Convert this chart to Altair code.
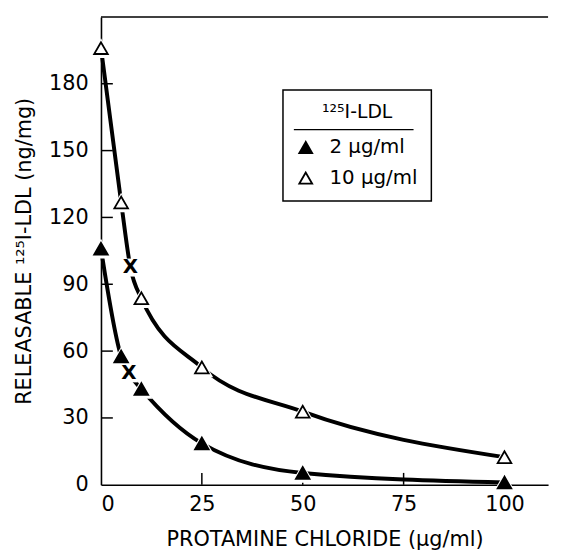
import altair as alt
import pandas as pd

# ---- data ----
series_names = ["2 µg/ml", "10 µg/ml"]
conc = [0, 5, 10, 25, 50, 100]
low_vals = [106, 57.6, 43, 18.6, 5.3, 1.0]
high_vals = [196, 126.7, 83.7, 52.7, 32.8, 12.4]

# "X" marked points lying on the curves
x_mark_conc = [6.9, 7.3]
x_mark_vals = [50.0, 97.5]
x_mark_series = ["2 µg/ml", "10 µg/ml"]

x_tick_vals = [0, 25, 50, 75, 100]
y_tick_vals = [0, 30, 60, 90, 120, 150, 180]
inner_x_ticks = [25, 50, 75]
inner_y_ticks = [30, 60, 90, 120, 150, 180]

W, H = 452, 473
XMAX, YMAX = 110.8, 210
FONT = "DejaVu Sans"

# ---- tables ----
pts = pd.DataFrame(
    [{"conc": c, "val": v, "series": series_names[0]} for c, v in zip(conc, low_vals)]
    + [{"conc": c, "val": v, "series": series_names[1]} for c, v in zip(conc, high_vals)]
)
xm = pd.DataFrame({"conc": x_mark_conc, "val": x_mark_vals, "series": x_mark_series})
line_df = pd.concat([pts, xm]).sort_values(["series", "conc"])

xscale = alt.Scale(domain=[0, XMAX], nice=False, zero=False)
yscale = alt.Scale(domain=[0, YMAX], nice=False)

xenc = alt.X(
    "conc:Q", scale=xscale,
    axis=alt.Axis(values=x_tick_vals, ticks=False, grid=False, domainColor="black",
                  domainWidth=1.6, labelFontSize=21, labelFont=FONT, labelColor="black",
                  labelPadding=9, title="PROTAMINE CHLORIDE (µg/ml)", titleFont=FONT,
                  titleFontSize=21, titleFontWeight="normal", titleColor="black",
                  titlePadding=14),
)
yenc = alt.Y(
    "val:Q", scale=yscale,
    axis=alt.Axis(values=y_tick_vals, ticks=False, grid=False, domainColor="black",
                  domainWidth=1.6, labelFontSize=21, labelFont=FONT, labelColor="black",
                  labelPadding=13, title="RELEASABLE ¹²⁵I-LDL (ng/mg)", titleFont=FONT,
                  titleFontSize=21, titleFontWeight="normal", titleColor="black",
                  titlePadding=14),
)

lines = alt.Chart(line_df).mark_line(
    color="black", strokeWidth=4, interpolate="monotone"
).encode(x=xenc, y=yenc, detail="series:N")

halo = alt.Chart(pts).mark_point(
    shape="triangle-up", filled=True, color="white", size=520, opacity=1
).encode(x=alt.X("conc:Q", scale=xscale), y=alt.Y("val:Q", scale=yscale))

LEG = alt.Legend(title="¹²⁵I-LDL")
markers = alt.Chart(pts).mark_point(
    size=190, strokeWidth=1.8, opacity=1, filled=True
).encode(
    x=alt.X("conc:Q", scale=xscale),
    y=alt.Y("val:Q", scale=yscale),
    shape=alt.Shape("series:N", scale=alt.Scale(domain=series_names,
                                                range=["triangle-up", "triangle-up"]),
                    legend=LEG),
    fill=alt.Fill("series:N", scale=alt.Scale(domain=series_names, range=["black", "white"]),
                  legend=LEG),
    stroke=alt.Stroke("series:N", scale=alt.Scale(domain=series_names, range=["black", "black"]),
                      legend=LEG),
)

xhalo = alt.Chart(xm).mark_point(
    shape="square", filled=True, color="white", size=330, opacity=1
).encode(x=alt.X("conc:Q", scale=xscale), y=alt.Y("val:Q", scale=yscale))

xtext = alt.Chart(xm).mark_text(
    text="X", font=FONT, fontSize=20, fontWeight="bold", color="black", baseline="middle"
).encode(x=alt.X("conc:Q", scale=xscale), y=alt.Y("val:Q", scale=yscale))

xt = alt.Chart(pd.DataFrame({"t": inner_x_ticks})).mark_rule(
    color="black", strokeWidth=1.5
).encode(x=alt.X("t:Q", scale=xscale), y=alt.value(H), y2=alt.value(H - 12))

yt = alt.Chart(pd.DataFrame({"t": inner_y_ticks})).mark_rule(
    color="black", strokeWidth=1.5
).encode(y=alt.Y("t:Q", scale=yscale), x=alt.value(0), x2=alt.value(12))

top = alt.Chart(pd.DataFrame({"t": [YMAX]})).mark_rule(
    color="black", strokeWidth=1.6
).encode(y=alt.Y("t:Q", scale=yscale), x=alt.value(0), x2=alt.value(W))

underline = alt.Chart(pd.DataFrame({"t": [0]})).mark_rule(
    color="black", strokeWidth=1.4
).encode(x=alt.value(195), x2=alt.value(316), y=alt.value(114))

chart = alt.layer(
    top, xt, yt, lines, halo, xhalo, markers, xtext, underline
).properties(width=W, height=H).configure_view(stroke=None).configure_legend(
    orient="none", legendX=184, legendY=74, strokeColor="black", strokeWidth=1.5,
    padding=13, titleFont=FONT, titleFontSize=19, titleFontWeight="normal",
    titleColor="black", titleAnchor="middle", titlePadding=16,
    labelFont=FONT, labelFontSize=20, labelColor="black", symbolSize=170,
    symbolStrokeWidth=1.8, rowPadding=11, labelOffset=14,
    symbolType="triangle-up",
)

chart.save("out.html", embed_options={"renderer": "svg", "actions": False})
